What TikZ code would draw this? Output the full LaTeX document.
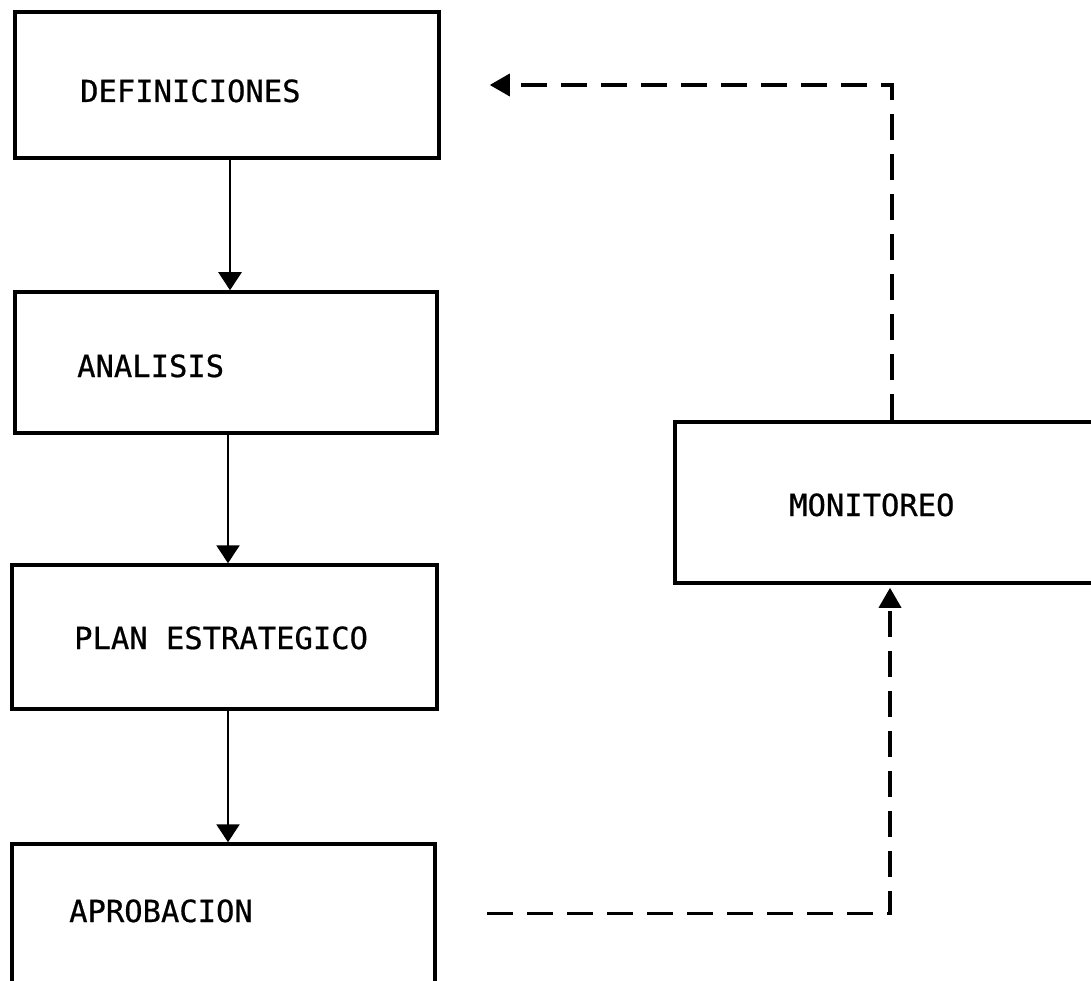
\documentclass[tikz,border=0pt]{standalone}
\usepackage{fontspec}
\newfontfamily\stagefont[FakeBold=0.6]{DejaVu Sans Mono}
\usetikzlibrary{arrows.meta}

\tikzset{
  stagebox/.style={draw, line width=3.5pt, inner sep=0pt, rectangle},
  stagetext/.style={anchor=base west, inner sep=0pt,
    font=\stagefont\fontsize{30.5}{36}\selectfont},
  flow/.style={line width=2.5pt, -{Triangle[length=18pt,width=23pt]}},
  feedback/.style={line width=3.5pt, dash pattern=on 26pt off 14pt,
    -{Triangle[length=20pt,width=22pt]}}
}

\begin{document}
\begin{tikzpicture}[x=1pt, y=-1pt]
  \useasboundingbox (0,0) rectangle (1091,981);
  \clip (0,0) rectangle (1091,981);

  % main sequence of stages
  \node[stagebox, minimum width=424pt, minimum height=146pt] (def)  at (227,85) {};
  \node[stagebox, minimum width=422pt, minimum height=141pt] (ana)  at (226,362.5) {};
  \node[stagebox, minimum width=425pt, minimum height=144pt] (plan) at (224.5,637) {};
  \node[stagebox, minimum width=423pt, minimum height=138.5pt] (apro) at (223.5,913.25) {};
  % monitoring stage on the right
  \node[stagebox, minimum width=425pt, minimum height=161pt] (mon)  at (887.5,502.5) {};

  \node[stagetext] (deft)  at (80,102)  {DEFINICIONES};
  \node[stagetext] (anat)  at (77,377)  {ANALISIS};
  \node[stagetext] (plant) at (74,649)  {PLAN ESTRATEGICO};
  \node[stagetext] (aprot) at (69,922)  {APROBACION};
  \node[stagetext] (mont)  at (789,516) {MONITOREO};

  % downward flow
  \draw[flow] ([xshift=3pt]def.south)    -- ([xshift=4pt]ana.north);
  \draw[flow] ([xshift=2pt]ana.south)    -- ([xshift=3.5pt]plan.north);
  \draw[flow] ([xshift=3.5pt]plan.south) -- ([xshift=4.5pt]apro.north);

  % feedback loop
  \draw[feedback, shorten <=50pt, shorten >=3pt] (apro.east) -| ([xshift=2.5pt]mon.south);
  \draw[feedback, shorten >=49pt] ([xshift=4.5pt]mon.north) |- (def.east);
\end{tikzpicture}
\end{document}
